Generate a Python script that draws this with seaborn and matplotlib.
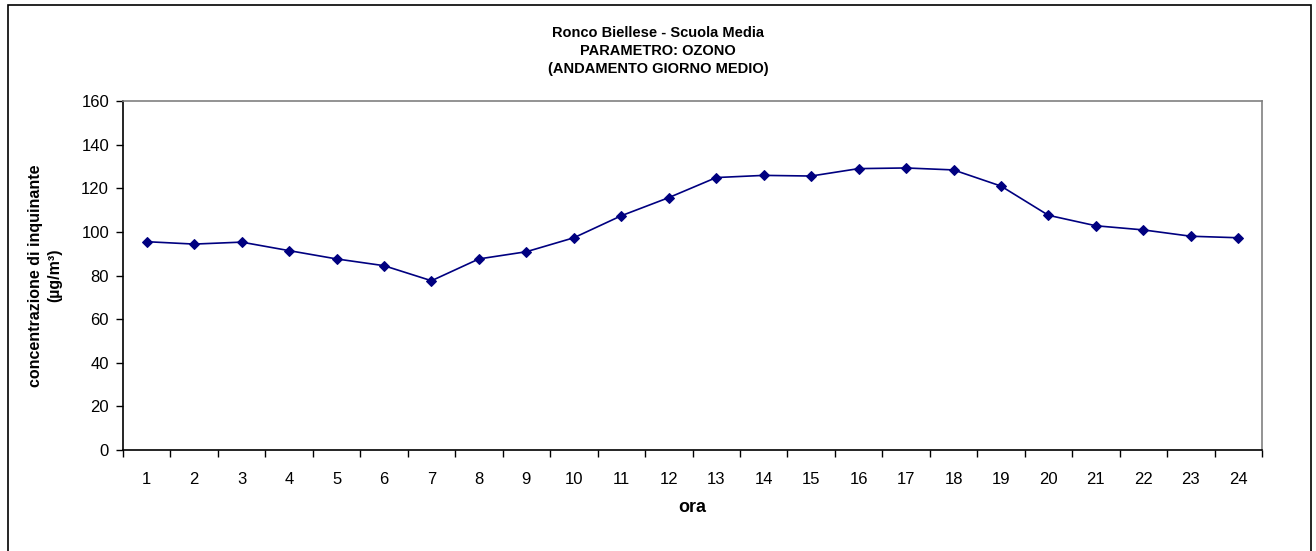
import numpy as np
import pandas as pd
import matplotlib.pyplot as plt
import seaborn as sns
from matplotlib.patches import Rectangle

# Data
ore = list(range(1, 25))
ozono = [95.5, 94.4, 95.3, 91.4, 87.6, 84.5, 77.6, 87.6, 90.9, 97.3, 107.4, 115.7,
         124.9, 125.9, 125.6, 129.0, 129.3, 128.4, 121.0, 107.6, 102.8, 100.9, 98.0, 97.3]
y_ticks = [0, 20, 40, 60, 80, 100, 120, 140, 160]

df = pd.DataFrame({"ora": ore, "ozono": ozono})

sns.set_style("white", {"text.color": "black", "axes.labelcolor": "black",
                        "xtick.color": "black", "ytick.color": "black",
                        "xtick.bottom": True, "ytick.left": True})
plt.rcParams["font.family"] = ["Liberation Sans", "DejaVu Sans"]

fig = plt.figure(figsize=(13.16, 5.51), dpi=100)
ax = fig.add_axes([123 / 1316, 1 - 450 / 551, 1139 / 1316, 349 / 551])

sns.lineplot(data=df, x="ora", y="ozono", ax=ax, color="#000080", linewidth=1.2,
             marker="D", markersize=5.5, markeredgecolor="#000080")

ax.set_xlim(0.5, 24.5)
ax.set_ylim(0, 160)
ax.set_yticks(y_ticks)
ax.set_xticks(ore)
ax.set_xticks(np.arange(0.5, 25, 1), minor=True)
ax.tick_params(axis="x", which="major", bottom=True, length=0, pad=16, labelsize=12)
ax.tick_params(axis="x", which="minor", bottom=True, length=5, width=1, direction="out", color="black")
ax.tick_params(axis="y", left=True, length=5, width=1, direction="out", color="black", pad=5, labelsize=12)

for side in ["left", "bottom"]:
    ax.spines[side].set_color("black")
    ax.spines[side].set_linewidth(1.2)
for side in ["top", "right"]:
    ax.spines[side].set_color("#808080")
    ax.spines[side].set_linewidth(1.2)

ax.set_xlabel("ora", fontsize=13, fontweight="bold")
ax.xaxis.set_label_coords(0.5, -0.14)
ax.set_ylabel("concentrazione di inquinante\n(µg/m³)", fontsize=11.5, fontweight="bold",
              linespacing=1.35)
ax.yaxis.set_label_coords(-0.053, 0.5)

fig.text(0.5, 1 - 51 / 551, "Ronco Biellese - Scuola Media\nPARAMETRO: OZONO\n(ANDAMENTO GIORNO MEDIO)",
         ha="center", va="center", fontsize=10.5, fontweight="bold", linespacing=1.38)

fig.patches.append(Rectangle((8 / 1316, -0.01), 1303 / 1316, 1 - 5 / 551 + 0.01,
                             transform=fig.transFigure, fill=False,
                             edgecolor="black", linewidth=1.2))

fig.savefig("out.png", dpi=100)
